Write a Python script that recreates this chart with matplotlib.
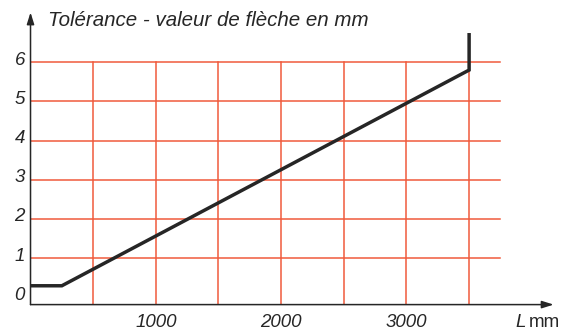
import matplotlib
matplotlib.use('Agg')
import matplotlib.pyplot as plt
import matplotlib.transforms as mtransforms

# tolerance curve: flat start, linear rise, vertical end
length_mm = [0, 250, 3500, 3500]
tolerance = [0.3, 0.3, 5.8, 6.7]

y_ticks = [0, 1, 2, 3, 4, 5, 6]
x_grid = [500, 1000, 1500, 2000, 2500, 3000, 3500]
x_labels = [1000, 2000, 3000]

RED = '#f05a3c'
INK = '#262626'
FONT = 'Liberation Sans'
SIZE = 13.5

fig = plt.figure(figsize=(5.79, 3.33), dpi=100)
ax = fig.add_axes([0.0527, 0.0853, 0.909, 0.881])
x_end, y_bot, y_top = 4200, -0.18, 7.3
ax.set_xlim(0, x_end)
ax.set_ylim(y_bot, y_top)
for s in ax.spines.values():
    s.set_visible(False)

# red grid
for y in y_ticks[1:]:
    ax.plot([0, 3750], [y, y], color=RED, lw=1.1, zorder=1)
for x in x_grid:
    ax.plot([x, x], [y_bot, 6], color=RED, lw=1.1, zorder=1)

ax.plot(length_mm, tolerance, color=INK, lw=2.5, solid_joinstyle='miter', zorder=3)

# axes with arrow heads
arrow = dict(arrowstyle='-|>,head_length=0.7,head_width=0.22', color=INK, lw=1.1,
             shrinkA=0, shrinkB=0)
ax.annotate('', xy=(4175, y_bot), xytext=(0, y_bot), arrowprops=arrow,
            annotation_clip=False, zorder=4)
ax.annotate('', xy=(0, 7.27), xytext=(0, y_bot), arrowprops=arrow,
            annotation_clip=False, zorder=4)

ax.set_yticks(y_ticks)
ax.set_yticklabels([str(v) for v in y_ticks])
ax.set_xticks(x_labels)
ax.set_xticklabels([str(v) for v in x_labels])
ax.tick_params(axis='both', length=0, labelsize=SIZE, colors=INK)
ax.tick_params(axis='y', pad=4)
ax.tick_params(axis='x', pad=7)
shift_up = mtransforms.ScaledTranslation(0, 3 / 72, fig.dpi_scale_trans)
for lab in ax.get_yticklabels():
    lab.set_transform(lab.get_transform() + shift_up)
for lab in ax.get_xticklabels() + ax.get_yticklabels():
    lab.set_fontfamily(FONT)
    lab.set_fontstyle('italic')

below = ax.transData + mtransforms.ScaledTranslation(0, -7 / 72, fig.dpi_scale_trans)
ax.text(3867, y_bot, 'L', fontsize=SIZE, fontstyle='italic', family=FONT, color=INK,
        ha='left', va='top', transform=below)
ax.text(3978, y_bot, 'mm', fontsize=SIZE, family=FONT, color=INK,
        ha='left', va='top', transform=below)

fig.text(48 / 579, 1 - 20 / 333, 'Tolérance - valeur de flèche en mm', fontsize=14.8,
         fontstyle='italic', family=FONT, color=INK, ha='left', va='center')

fig.savefig('out.png', dpi=100, facecolor='white')
